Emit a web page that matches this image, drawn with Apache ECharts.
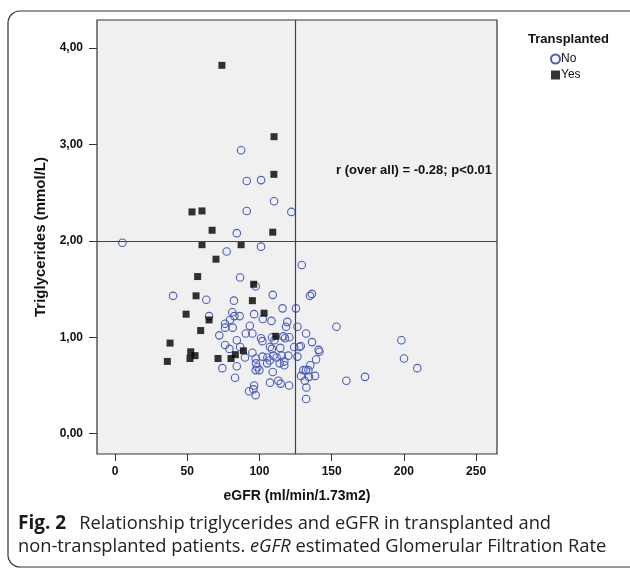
<!DOCTYPE html>
<html>
<head>
<meta charset="utf-8">
<script src="https://cdn.jsdelivr.net/npm/echarts@6/dist/echarts.min.js"></script>
<style>
html,body{margin:0;padding:0;background:#fff;}
#chart{width:630px;height:570px;}
</style>
</head>
<body>
<div id="chart"></div>
<script>
// ---- data ----
const noEgfr = [87.3,91.2,101.1,110.1,91.2,122.1,84.3,5.1,77.3,101.1,129.3,86.6,97.4,40.2,109.2,135.0,136.3,63.2,82.3,
  65.1,81.2,82.6,86.3,79.6,76.2,76.2,81.5,72.2,84.3,76.2,79.2,86.6,84.3,74.3,83.1,
  93.3,96.3,102.3,108.3,116.0,125.3,119.3,118.4,126.3,90.5,95.1,101.1,102.0,108.7,110.3,116.6,117.7,120.7,132.3,136.4,
  107.3,108.6,114.4,124.0,127.6,128.6,141.0,141.5,95.1,90.0,97.4,102.1,105.5,109.6,111.9,115.4,120.0,126.3,139.2,
  117.2,114.0,107.1,105.3,97.6,98.5,99.9,97.4,109.2,117.2,135.2,130.4,132.2,133.9,128.8,134.3,138.5,131.4,132.5,132.3,
  107.3,113.1,114.7,120.5,92.8,96.3,95.8,97.4,153.3,198.3,200.1,209.3,160.2,173.1];
const noTg = [2.94,2.62,2.63,2.41,2.31,2.30,2.08,1.98,1.89,1.94,1.75,1.62,1.53,1.43,1.44,1.43,1.45,1.39,1.38,
  1.22,1.26,1.22,1.22,1.18,1.14,1.10,1.10,1.02,0.97,0.92,0.88,0.90,0.70,0.68,0.58,
  1.12,1.24,1.19,1.17,1.30,1.30,1.16,1.11,1.11,1.04,1.04,0.99,0.96,1.00,0.97,1.01,0.99,1.00,1.04,0.95,
  0.90,0.88,0.89,0.90,0.90,0.91,0.87,0.85,0.84,0.79,0.78,0.80,0.79,0.81,0.79,0.81,0.81,0.80,0.77,
  0.75,0.73,0.76,0.73,0.73,0.69,0.66,0.66,0.64,0.71,0.71,0.66,0.66,0.66,0.60,0.59,0.60,0.55,0.48,0.36,
  0.53,0.55,0.52,0.50,0.44,0.50,0.46,0.40,1.11,0.97,0.78,0.68,0.55,0.59];
const yesEgfr = [74.0,110.1,110.0,53.3,60.2,67.2,109.2,60.2,87.3,69.9,57.2,96.0,56.1,95.1,49.2,103.2,65.1,59.3,111.3,38.1,88.9,52.4,55.4,51.9,83.3,80.3,71.3,36.2];
const yesTg = [3.82,3.08,2.69,2.30,2.31,2.11,2.09,1.96,1.96,1.81,1.63,1.55,1.43,1.38,1.24,1.25,1.18,1.07,1.01,0.94,0.86,0.85,0.81,0.78,0.82,0.78,0.78,0.75];
const xTicks = [0,50,100,150,200,250];
const yTicks = [0,1,2,3,4];
const refLineX = [125];
const refLineY = [2];
const seriesNames = ['No','Yes'];
const legendTitle = 'Transplanted';
const xTitle = 'eGFR (ml/min/1.73m2)';
const yTitle = 'Triglycerides (mmol/L)';
const annotation = 'r (over all) = -0.28; p<0.01';

const noData = noEgfr.map((x,i)=>[x,noTg[i]]);
const yesData = yesEgfr.map((x,i)=>[x,yesTg[i]]);

const axisFont = "'Liberation Sans Narrow','Liberation Sans',Arial,sans-serif";
const titleFont = "'Liberation Sans',Arial,sans-serif";
const capFont = "'Open Sans','Noto Sans',sans-serif";

const chart = echarts.init(document.getElementById('chart'), null, {renderer:'canvas'});
chart.setOption({
  animation:false,
  backgroundColor:'#fff',
  grid:{left:97,top:20,width:400,height:434,show:true,backgroundColor:'#f0f0f0',borderColor:'#333',borderWidth:1.2},
  xAxis:{
    type:'value',min:-12.5,max:264.5,
    name:xTitle,nameLocation:'middle',nameGap:35,
    nameTextStyle:{fontFamily:titleFont,fontWeight:'bold',fontSize:14,color:'#111'},
    axisLine:{show:false,onZero:false},
    splitLine:{show:false},
    axisTick:{show:true,length:7,inside:false,customValues:xTicks,lineStyle:{color:'#333'}},
    axisLabel:{customValues:xTicks,margin:12,fontFamily:axisFont,fontWeight:'bold',fontSize:12,color:'#111'}
  },
  yAxis:{
    type:'value',min:-0.21,max:4.29,
    name:yTitle,nameLocation:'middle',nameGap:45,nameRotate:90,
    nameTextStyle:{fontFamily:titleFont,fontWeight:'bold',fontSize:15,color:'#111'},
    axisLine:{show:false,onZero:false},
    splitLine:{show:false},
    axisTick:{show:true,length:8,customValues:yTicks,lineStyle:{color:'#333'}},
    axisLabel:{customValues:yTicks,margin:14,fontFamily:axisFont,fontWeight:'bold',fontSize:12,color:'#111',
      formatter:v=>v.toFixed(2).replace('.',',')}
  },
  legend:{
    orient:'vertical',left:550,top:53,padding:0,itemWidth:9,itemHeight:9,itemGap:4,
    textStyle:{fontFamily:titleFont,fontSize:12,color:'#111',padding:[0,0,0,-4]},
    data:seriesNames
  },
  graphic:[
    {type:'rect',silent:true,shape:{x:8,y:11,width:660,height:556,r:12},style:{fill:'none',stroke:'#333',lineWidth:1.2}},
    {type:'text',left:528,top:33,style:{text:legendTitle,font:"bold 13px "+titleFont,fill:'#111'}},
    {type:'text',left:336,top:164,style:{text:annotation,font:"bold 13px "+titleFont,fill:'#111'}},
    {type:'text',left:18,top:514,style:{
      text:'{b|Fig. 2}{s| }{n|Relationship triglycerides and eGFR in transplanted and}\n{n|non-transplanted patients. }{i|eGFR}{n| estimated Glomerular Filtration Rate}',
      rich:{
        b:{fontFamily:capFont,fontWeight:'bold',fontSize:19,fill:'#1a1a1a',lineHeight:23},
        s:{fontFamily:capFont,fontSize:18,width:13,lineHeight:23},
        n:{fontFamily:capFont,fontSize:18.3,fill:'#222',lineHeight:23},
        i:{fontFamily:capFont,fontStyle:'italic',fontSize:18.3,fill:'#222',lineHeight:23}
      }
    }}
  ],
  series:[
    {
      name:seriesNames[0],type:'scatter',data:noData,symbol:'circle',symbolSize:7.5,
      itemStyle:{color:'rgba(0,0,0,0)',borderColor:'#4a5cc0',borderWidth:1.1,opacity:1},
      markLine:{silent:true,symbol:'none',animation:false,label:{show:false},
        lineStyle:{color:'#444',type:'solid',width:1.2},
        data:[{xAxis:refLineX[0]},{yAxis:refLineY[0]}]},
      z:2
    },
    {
      name:seriesNames[1],type:'scatter',data:yesData,symbol:'rect',symbolSize:7,
      itemStyle:{color:'#000'},z:3
    }
  ]
});
</script>
</body>
</html>
